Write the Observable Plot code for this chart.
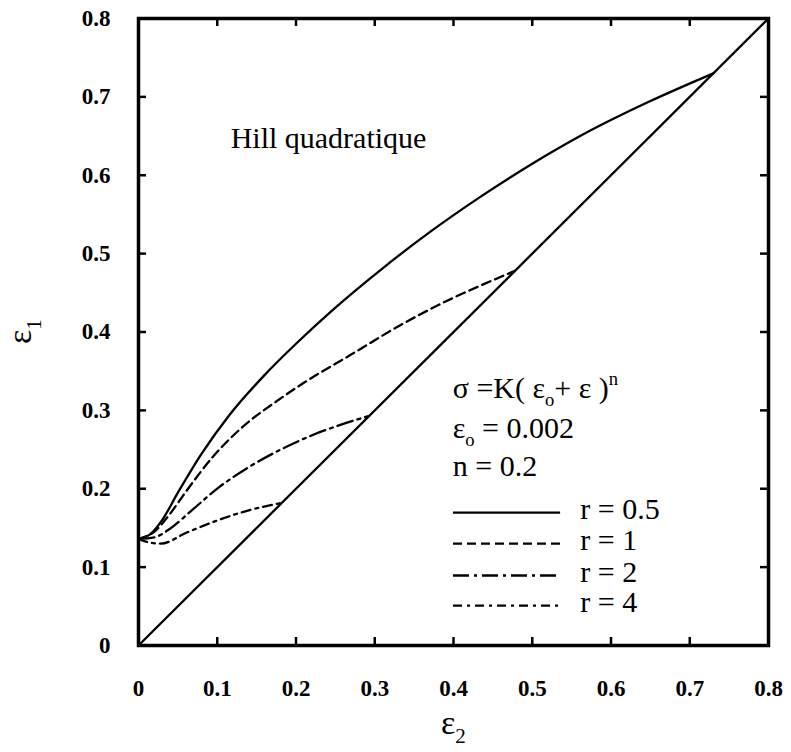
<!DOCTYPE html>
<html><head><meta charset="utf-8">
<script src="https://cdn.jsdelivr.net/npm/d3@7"></script>
<script src="https://cdn.jsdelivr.net/npm/@observablehq/plot@0.6"></script>
<style>body{margin:0;background:#fff}</style>
</head><body><div id="chart"></div>
<script>
// ---- data ----
const xTicks = [0, 0.1, 0.2, 0.3, 0.4, 0.5, 0.6, 0.7, 0.8];
const xTickLabels = ["0", "0.1", "0.2", "0.3", "0.4", "0.5", "0.6", "0.7", "0.8"];
const yTicks = [0, 0.1, 0.2, 0.3, 0.4, 0.5, 0.6, 0.7, 0.8];
const yTickLabels = ["0", "0.1", "0.2", "0.3", "0.4", "0.5", "0.6", "0.7", "0.8"];
const innerTicks = [0.1, 0.2, 0.3, 0.4, 0.5, 0.6, 0.7];

const diagX = [0, 0.8];
const diagY = [0, 0.8];

const r05X = [0, 0.015, 0.03, 0.05, 0.08, 0.115, 0.16, 0.2, 0.245, 0.31, 0.372, 0.435, 0.5, 0.562, 0.648, 0.73];
const r05Y = [0.136, 0.142, 0.16, 0.195, 0.2445, 0.2935, 0.345, 0.385, 0.4267, 0.4813, 0.529, 0.5731, 0.6147, 0.6507, 0.6937, 0.73];
const r1X = [0, 0.02, 0.04, 0.06, 0.094, 0.136, 0.174, 0.21, 0.27, 0.333, 0.397, 0.44, 0.478];
const r1Y = [0.136, 0.145, 0.168, 0.196, 0.2402, 0.2822, 0.3107, 0.3352, 0.3712, 0.409, 0.4423, 0.4617, 0.478];
const r2X = [0, 0.02, 0.04, 0.068, 0.102, 0.14, 0.183, 0.225, 0.26, 0.293];
const r2Y = [0.136, 0.138, 0.149, 0.1728, 0.2017, 0.2275, 0.2512, 0.2701, 0.2827, 0.293];
const r4X = [0, 0.012, 0.028, 0.062, 0.1, 0.14, 0.182];
const r4Y = [0.136, 0.1318, 0.130, 0.1445, 0.1595, 0.1725, 0.182];

const seriesLabels = ["r = 0.5", "r = 1", "r = 2", "r = 4"];
const seriesX = [r05X, r1X, r2X, r4X];
const seriesY = [r05Y, r1Y, r2Y, r4Y];

const title = "Hill quadratique";
const formulaLines = ["σ =K( ε_o+ ε )^n", "ε_o = 0.002", "n = 0.2"];
const xTitle = "ε_2";
const yTitle = "ε_1";

// ---- layout / style ----
const W = 791, H = 752;
const M = {left: 138, right: 23, top: 18, bottom: 107};
const plotW = W - M.left - M.right, plotH = H - M.top - M.bottom;
const dashes = [null, "9,5", "16,5,3,5", "9,5,3,5"];
const legendRowY = [0.1696, 0.130, 0.0893, 0.051];
const legendLineX = [0.40, 0.536];
const legendTextX = 0.561;
const formulaPos = {x: 0.399, y: [0.3286, 0.2776, 0.229]};
const titlePos = {x: 0.117, y: 0.647};
const serif = "'Liberation Serif', 'Times New Roman', Times, serif";
const TF = 30;

const toRows = (xs, ys) => xs.map((x, i) => ({x, y: ys[i]}));

const marks = [
  Plot.frame({strokeWidth: 3.5}),
  // inward ticks on all four sides
  Plot.ruleX(innerTicks, {x: d => d, insetTop: plotH - 8, strokeWidth: 2.5}),
  Plot.ruleX(innerTicks, {x: d => d, insetBottom: plotH - 8, strokeWidth: 2.5}),
  Plot.ruleY(innerTicks, {y: d => d, insetRight: plotW - 8, strokeWidth: 2.5}),
  Plot.ruleY(innerTicks, {y: d => d, insetLeft: plotW - 8, strokeWidth: 2.5}),
  Plot.axisX(xTicks, {tickSize: 0, tickPadding: 34, fontSize: 23, fontWeight: "bold", label: null,
    tickFormat: d => xTickLabels[xTicks.indexOf(d)]}),
  Plot.axisY(yTicks, {tickSize: 0, tickPadding: 28, fontSize: 23, fontWeight: "bold", label: null,
    tickFormat: d => yTickLabels[yTicks.indexOf(d)]}),
  Plot.line(toRows(diagX, diagY), {x: "x", y: "y", strokeWidth: 2.3})
];
seriesLabels.forEach((lab, i) => {
  marks.push(Plot.line(toRows(seriesX[i], seriesY[i]), {x: "x", y: "y", curve: "monotone-x",
    strokeWidth: 2.3, strokeDasharray: dashes[i] || undefined}));
  marks.push(Plot.ruleY([legendRowY[i]], {y: d => d, x1: legendLineX[0], x2: legendLineX[1],
    strokeWidth: 2.3, strokeDasharray: dashes[i] || undefined}));
  marks.push(Plot.text([lab], {x: legendTextX, y: legendRowY[i] + 0.004, text: d => d,
    textAnchor: "start", fontSize: TF, fontFamily: serif}));
});
marks.push(Plot.text([title], {x: titlePos.x, y: titlePos.y, text: d => d, textAnchor: "start", fontSize: TF, fontFamily: serif}));
formulaLines.forEach((t, i) => marks.push(Plot.text([t], {x: formulaPos.x, y: formulaPos.y[i], text: d => d,
  textAnchor: "start", fontSize: TF, fontFamily: serif})));
marks.push(Plot.text([xTitle], {frameAnchor: "bottom", dy: 88, text: d => d, fontSize: 34, fontFamily: serif}));
marks.push(Plot.text([yTitle], {frameAnchor: "left", dx: -118, dy: 12, rotate: -90, text: d => d, fontSize: 34, fontFamily: serif}));

const svg = Plot.plot({
  width: W, height: H,
  marginLeft: M.left, marginRight: M.right, marginTop: M.top, marginBottom: M.bottom,
  x: {domain: [0, 0.8]},
  y: {domain: [0, 0.8]},
  style: {fontFamily: serif, background: "white", color: "black"},
  marks
});

// sub/superscript rendering: "_c" -> subscript c, "^c" -> superscript c
function richify(root) {
  const NS = "http://www.w3.org/2000/svg";
  root.querySelectorAll("text").forEach(t => {
    const s = t.textContent;
    if (!/[_^]/.test(s)) return;
    const fs = parseFloat(t.getAttribute("font-size") || (t.parentNode && t.parentNode.getAttribute && t.parentNode.getAttribute("font-size"))) || TF;
    const runs = [];
    for (let i = 0; i < s.length; i++) {
      let ch = s[i], mode = "n";
      if ((ch === "_" || ch === "^") && i + 1 < s.length) { mode = ch; ch = s[++i]; }
      if (runs.length && runs[runs.length - 1].mode === mode && mode === "n") runs[runs.length - 1].txt += ch;
      else runs.push({mode, txt: ch});
    }
    t.textContent = "";
    let shift = 0;
    runs.forEach(r => {
      const ts = document.createElementNS(NS, "tspan");
      const target = r.mode === "_" ? 0.28 * fs : r.mode === "^" ? -0.42 * fs : 0;
      if (target - shift !== 0) ts.setAttribute("dy", target - shift);
      shift = target;
      if (r.mode !== "n") ts.setAttribute("font-size", (fs * 0.62).toFixed(1));
      ts.textContent = r.txt;
      t.appendChild(ts);
    });
  });
}
richify(svg);
document.getElementById("chart").appendChild(svg);
</script>
</body></html>
